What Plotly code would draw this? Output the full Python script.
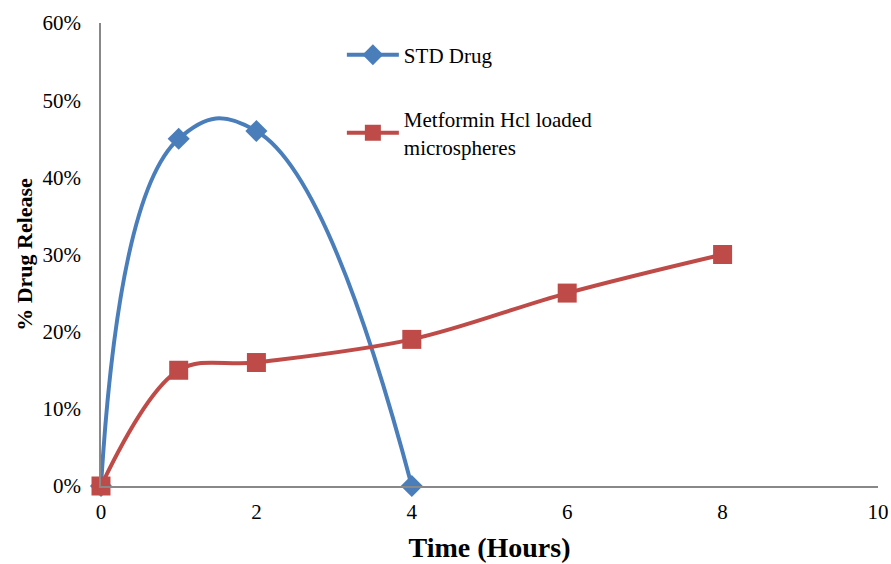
import plotly.graph_objects as go

time_std = [0, 1, 2, 4]
release_std = [0.0, 0.45, 0.46, 0.0]
time_met = [0, 1, 2, 4, 6, 8]
release_met = [0.0, 0.15, 0.16, 0.19, 0.25, 0.30]

FONT = "Liberation Serif, DejaVu Serif, serif"

fig = go.Figure()
fig.add_trace(go.Scatter(
    x=time_std, y=release_std, name="STD Drug", mode="lines+markers",
    line=dict(color="#4A7EBB", width=4, shape="spline", smoothing=1.3),
    marker=dict(symbol="diamond", size=17, color="#4A7EBB"),
    legendgroup="a",
))
fig.add_trace(go.Scatter(
    x=time_met, y=release_met, name="Metformin Hcl loaded<br>microspheres", mode="lines+markers",
    line=dict(color="#BE4B48", width=4, shape="spline", smoothing=1),
    marker=dict(symbol="square", size=19, color="#BE4B48"),
    legendgroup="b",
))

fig.update_layout(
    width=891, height=564,
    margin=dict(l=101, r=13, t=23, b=78),
    paper_bgcolor="white", plot_bgcolor="white",
    font=dict(family=FONT, size=18, color="black"),
    legend=dict(x=0.31, y=0.975, xanchor="left", yanchor="top",
                font=dict(family=FONT, size=21), tracegroupgap=34,
                itemwidth=52, bgcolor="rgba(0,0,0,0)"),
    xaxis=dict(range=[0, 10], tickvals=[0, 2, 4, 6, 8, 10], showgrid=False,
               showline=True, linecolor="#888888", linewidth=1.5, zeroline=False,
               automargin=False, ticklabelstandoff=6,
               tickfont=dict(family=FONT, size=21),
               title=dict(text="<b>Time (Hours)</b>", font=dict(family=FONT, size=28), standoff=14)),
    yaxis=dict(range=[0, 0.6], tickvals=[0, 0.1, 0.2, 0.3, 0.4, 0.5, 0.6], tickformat=".0%",
               showgrid=False, showline=True, linecolor="#888888", linewidth=1.5, zeroline=False,
               automargin=False, ticklabelstandoff=14,
               tickfont=dict(family=FONT, size=21),
               title=dict(text="<b>% Drug Release</b>", font=dict(family=FONT, size=22), standoff=4)),
)
fig.update_traces(cliponaxis=False)

fig.write_html("out.html")
